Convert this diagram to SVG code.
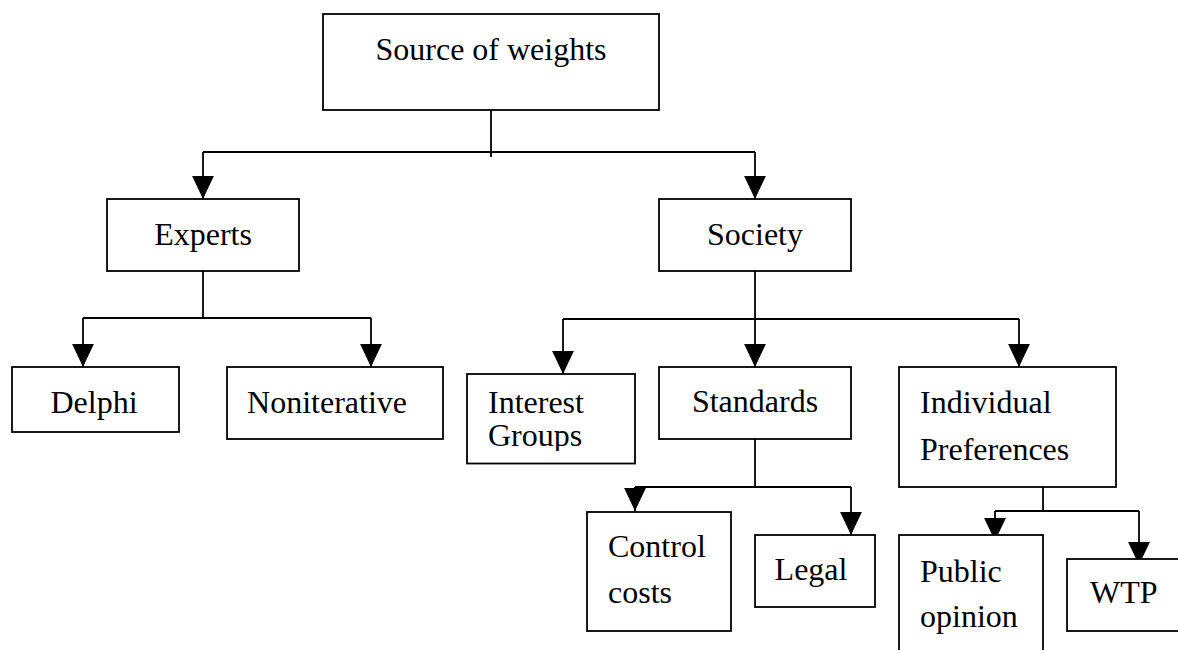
<svg xmlns="http://www.w3.org/2000/svg" width="1178" height="650" viewBox="0 0 1178 650">
<style>
.box{fill:#fff;stroke:#000;stroke-width:1.8}
.t{font-family:"Liberation Serif","Times New Roman",serif;font-size:32px;fill:#000}
.c{text-anchor:middle}
.ln{fill:none;stroke:#000;stroke-width:1.8}
</style>
<defs>
<marker id="ah" markerUnits="userSpaceOnUse" markerWidth="24" markerHeight="24" viewBox="0 -11 22 22" refX="21" refY="0" orient="auto">
<path d="M0,-10 L21,0 L0,10 Z" fill="#000"/>
</marker>
<clipPath id="igclip"><rect x="467" y="374" width="168" height="77"/></clipPath>
</defs>
<rect width="1178" height="650" fill="#fff"/>
<g id="connectors">
<path class="ln" d="M491,110 V157"/>
<path class="ln" d="M203,152 H755"/>
<path class="ln" d="M203,152 V199" marker-end="url(#ah)"/>
<path class="ln" d="M755,152 V199" marker-end="url(#ah)"/>
<path class="ln" d="M203,271 V318 M83,318 H371"/>
<path class="ln" d="M83,318 V367" marker-end="url(#ah)"/>
<path class="ln" d="M371,318 V367" marker-end="url(#ah)"/>
<path class="ln" d="M755,271 V319 M563,319 H1019"/>
<path class="ln" d="M563,319 V374" marker-end="url(#ah)"/>
<path class="ln" d="M755,319 V367" marker-end="url(#ah)"/>
<path class="ln" d="M1019,319 V367" marker-end="url(#ah)"/>
<path class="ln" d="M755,439 V487 M635,487 H851"/>
<path class="ln" d="M635,487 V511" marker-end="url(#ah)"/>
<path class="ln" d="M851,487 V535" marker-end="url(#ah)"/>
<path class="ln" d="M1043,487 V511 M995,511 H1139"/>
<path class="ln" d="M995,511 V541" marker-end="url(#ah)"/>
<path class="ln" d="M1139,511 V565" marker-end="url(#ah)"/>
</g>
<g id="source">
<rect class="box" x="323" y="14" width="336" height="96"/>
<text class="t c" x="491" y="60">Source of weights</text>
</g>
<g id="experts">
<rect class="box" x="107" y="199" width="192" height="72"/>
<text class="t c" x="203" y="245">Experts</text>
</g>
<g id="society">
<rect class="box" x="659" y="199" width="192" height="72"/>
<text class="t c" x="755" y="245">Society</text>
</g>
<g id="delphi">
<rect class="box" x="12" y="367" width="167" height="65"/>
<text class="t c" x="94" y="413">Delphi</text>
</g>
<g id="noniterative">
<rect class="box" x="227" y="367" width="216" height="72"/>
<text class="t c" x="327" y="413">Noniterative</text>
</g>
<g id="interest-groups">
<rect class="box" x="467" y="374" width="168" height="89.5"/>
<g clip-path="url(#igclip)">
<text class="t" x="488" y="413">Interest</text>
<text class="t" x="488" y="446">Groups</text>
</g>
</g>
<g id="standards">
<rect class="box" x="659" y="367" width="192" height="72"/>
<text class="t c" x="755" y="412">Standards</text>
</g>
<g id="individual-preferences">
<rect class="box" x="899" y="367" width="217" height="120"/>
<text class="t" x="920" y="413">Individual</text>
<text class="t" x="920" y="460">Preferences</text>
</g>
<g id="control-costs">
<rect class="box" x="587" y="512" width="144" height="119"/>
<text class="t" x="608" y="557">Control</text>
<text class="t" x="608" y="603">costs</text>
</g>
<g id="legal">
<rect class="box" x="755" y="535" width="120" height="72"/>
<text class="t c" x="811" y="580">Legal</text>
</g>
<g id="public-opinion">
<rect class="box" x="899" y="535" width="144" height="130"/>
<text class="t" x="920" y="582">Public</text>
<text class="t" x="920" y="627">opinion</text>
</g>
<g id="wtp">
<rect class="box" x="1067" y="559" width="130" height="72"/>
<text class="t" x="1090" y="603">WTP</text>
</g>
</svg>
